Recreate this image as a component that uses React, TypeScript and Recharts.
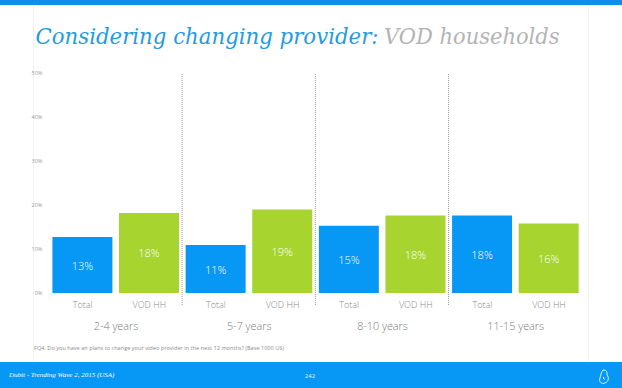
import React from "react";
import { BarChart, Bar, XAxis, YAxis, Cell, LabelList, ReferenceLine } from "recharts";

const groups = ["2-4 years", "5-7 years", "8-10 years", "11-15 years"];
const seriesNames = ["Total", "VOD HH"];
const totalValues = [12.7, 10.9, 15.3, 17.6];
const vodValues = [18.2, 19.0, 17.6, 15.8];
const valueLabels = [["13%", "18%"], ["11%", "19%"], ["15%", "18%"], ["18%", "16%"]];
const yTicks = [0, 10, 20, 30, 40, 50];

const BLUE = "#0797f4";
const GREEN = "#a7d42f";

const data = groups.flatMap((g, gi) => [
  { id: `${gi}-0`, cat: seriesNames[0], group: g, value: totalValues[gi], label: valueLabels[gi][0], color: BLUE },
  { id: `${gi}-1`, cat: seriesNames[1], group: g, value: vodValues[gi], label: valueLabels[gi][1], color: GREEN },
]);

const FONT = "'Open Sans', sans-serif";

const CatTick = (props: any) => {
  const { x, y, payload } = props;
  const d = data.find((r) => r.id === payload.value);
  return (
    <text x={x} y={y + 11.5} textAnchor="middle" dominantBaseline="central" fill="#8a8a8a" fontSize={9} fontFamily={FONT} fontWeight={300}>
      {d ? d.cat : ""}
    </text>
  );
};

const GroupTick = (props: any) => {
  const { x, y, payload } = props;
  return (
    <text x={x} y={y + 10} textAnchor="middle" dominantBaseline="central" fill="#7a7a7a" fontSize={10.8} fontFamily={FONT} fontWeight={300}>
      {payload.value}
    </text>
  );
};

const YTick = (props: any) => {
  const { x, y, payload } = props;
  return (
    <text x={x} y={y} textAnchor="end" dominantBaseline="central" fill="#9a9a9a" fontSize={5.5} fontFamily={FONT}>
      {payload.value}%
    </text>
  );
};

const ValueLabel = (props: any) => {
  const { x, y, width, height, value } = props;
  return (
    <text x={x + width / 2} y={y + height / 2} textAnchor="middle" dominantBaseline="central" fill="#ffffff" fontSize={11} fontFamily={FONT} fontWeight={300}>
      {value}
    </text>
  );
};

const separators = [data[1].id, data[3].id, data[5].id];

export default function App() {
  return (
    <div style={{ position: "absolute", left: 0, top: 0, width: 622, height: 388, background: "#ffffff", overflow: "hidden" }}>
      <div style={{ position: "absolute", left: 0, top: 0, width: 622, height: 5, background: "#0b8fea" }} />
      <div style={{ position: "absolute", left: 33, top: 5, width: 554, height: 357, borderLeft: "1px solid #f2f2f2", borderRight: "1px solid #f2f2f2" }} />
      <svg style={{ position: "absolute", left: 0, top: 0 }} width={622} height={60}>
        <text x={35.5} y={44} fill="#1d9ce2" fontFamily="'DejaVu Serif', serif" fontStyle="italic" fontSize={22.5} textLength={343} lengthAdjust="spacingAndGlyphs">
          Considering changing provider:
        </text>
        <text x={384} y={44} fill="#b4b4b4" fontFamily="'DejaVu Serif', serif" fontStyle="italic" fontSize={22.5} textLength={175.5} lengthAdjust="spacingAndGlyphs">
          VOD households
        </text>
      </svg>
      <div style={{ position: "absolute", left: 0, top: 0 }}>
        <BarChart
          width={622}
          height={388}
          data={data}
          margin={{ top: 73, right: 39.7, bottom: 43, left: 0 }}
          barSize={60}
        >
          <YAxis
            type="number"
            domain={[0, 50]}
            ticks={yTicks}
            width={49.4}
            axisLine={false}
            tickLine={false}
            tickSize={0}
            tickMargin={7}
            tick={<YTick />}
            interval={0}
          />
          <XAxis
            dataKey="id"
            xAxisId={0}
            height={22}
            axisLine={false}
            tickLine={false}
            tickSize={0}
            tickMargin={0}
            interval={0}
            tick={<CatTick />}
          />
          <XAxis
            dataKey="group"
            xAxisId="g"
            allowDuplicatedCategory={false}
            height={30}
            axisLine={false}
            tickLine={false}
            tickSize={0}
            tickMargin={0}
            interval={0}
            tick={<GroupTick />}
          />
          {separators.map((id) => (
            <ReferenceLine
              key={id}
              x={id}
              xAxisId={0}
              position="end"
              ifOverflow="visible"
              shape={(p: any) => {
                const xx = p.x1 - 0.5;
                return <line x1={xx} x2={xx} y1={74} y2={306} stroke="#9a9a9a" strokeDasharray="1 1" strokeWidth={1} />;
              }}
            />
          ))}
          <Bar dataKey="value" xAxisId={0} isAnimationActive={false}>
            {data.map((d) => (
              <Cell key={d.id} fill={d.color} />
            ))}
            <LabelList dataKey="label" content={<ValueLabel />} />
          </Bar>
        </BarChart>
      </div>
      <div style={{ position: "absolute", left: 34, top: 344, fontFamily: FONT, fontSize: 5.6, color: "#8c8c8c", whiteSpace: "nowrap" }}>
        FQ4. Do you have an plans to change your video provider in the next 12 months? (Base 1000 US)
      </div>
      <div style={{ position: "absolute", left: 0, top: 362, width: 622, height: 26, background: "#0797f4" }}>
        <div style={{ position: "absolute", left: 9, top: 9, fontFamily: "'Liberation Serif', serif", fontStyle: "italic", fontSize: 7, color: "#ffffff", whiteSpace: "nowrap" }}>
          Dubit - Trending Wave 2, 2015 (USA)
        </div>
        <div style={{ position: "absolute", left: 300, width: 20, textAlign: "center", top: 10, fontFamily: FONT, fontSize: 6, color: "#e8f4ff" }}>
          242
        </div>
        <svg style={{ position: "absolute", left: 597, top: 6 }} width={14} height={18}>
          <path d="M6 2 C9 1.5 10.5 4 10 7 C12 9 12 13.5 8 15 C4 16.5 1.5 13 3 10 C4 8 3.5 5 6 2 Z M6.5 9 C6 10.5 7 11.5 8 11" fill="none" stroke="#ffffff" strokeWidth={0.9} />
        </svg>
      </div>
    </div>
  );
}
